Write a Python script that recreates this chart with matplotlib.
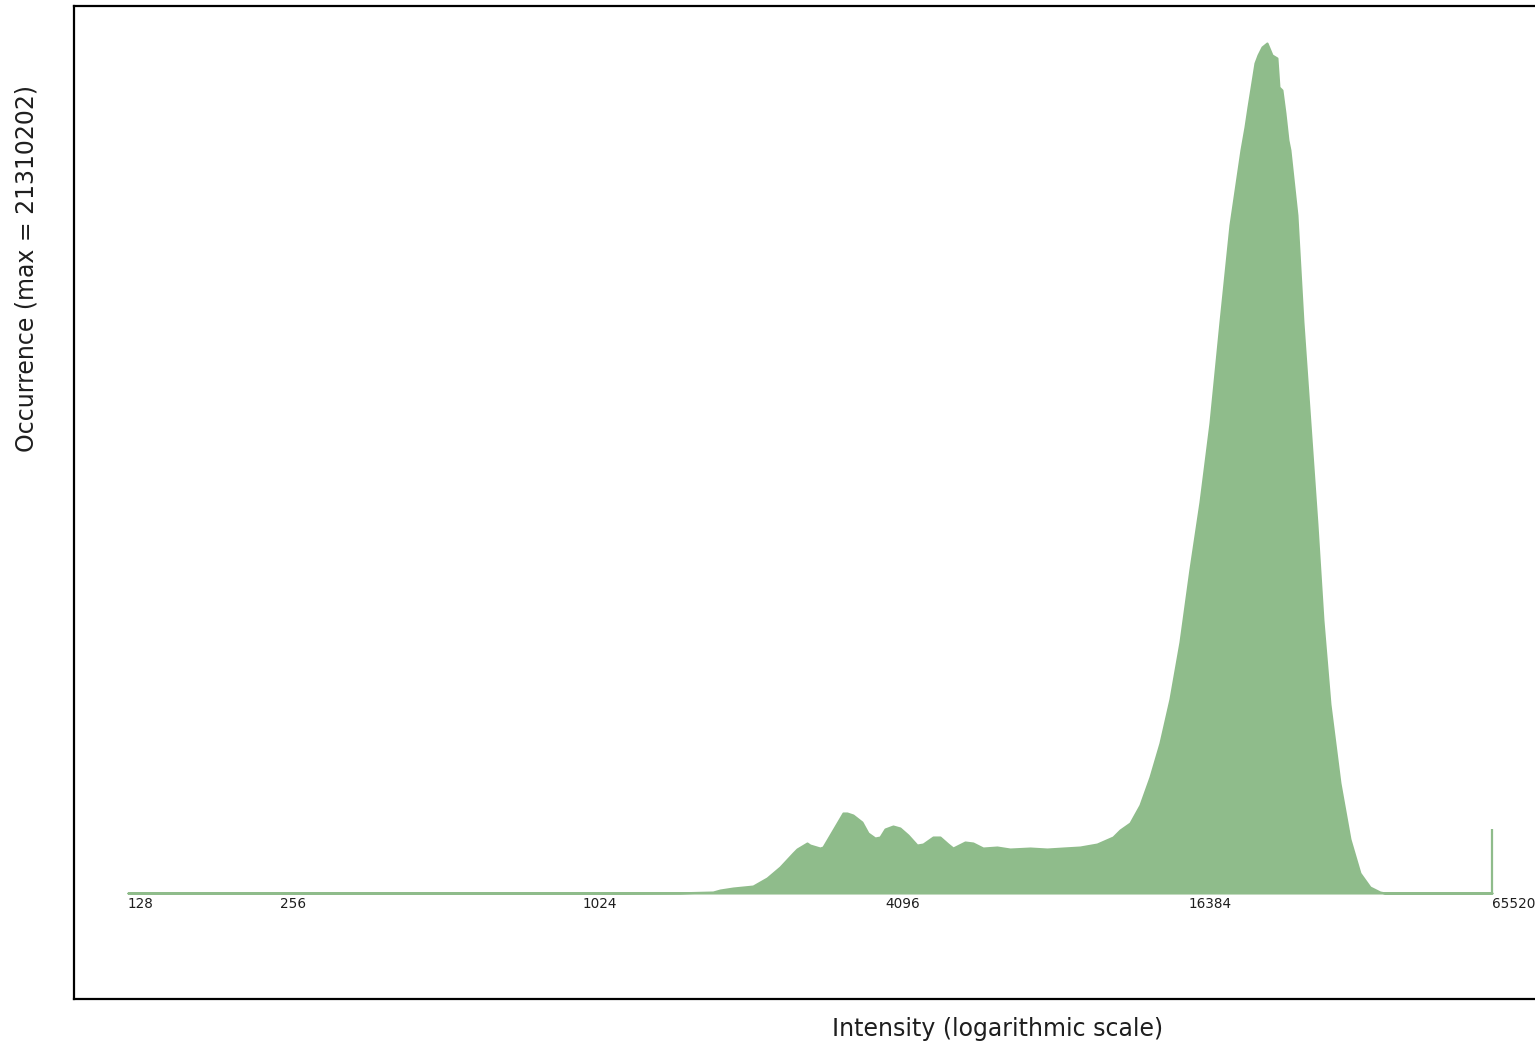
import matplotlib
matplotlib.use("Agg")
import matplotlib.pyplot as plt

# ---- data (intensity bin position, occurrence count) ----
intensity = [128, 1000, 1598, 1858, 1919, 2036, 2231, 2379, 2525, 2680, 2729, 2857,
             2896, 3031, 3073, 3217, 3368, 3430, 3525, 3673, 3776, 3899, 3989, 4081,
             4233, 4371, 4534, 4725, 4856, 5083, 5249, 5445, 5570, 5884, 6103, 6389,
             6812, 7229, 7924, 8561, 9212, 9955, 10761, 11577, 11954, 12513, 13099,
             13712, 14353, 15025, 15729, 16465, 17236, 18042, 18886, 19770,
             20788, 21175, 21467, 21862, 22165, 22472, 22887, 23416, 23958, 24510,
             24735, 25077, 25425, 25775, 26010, 26857, 27604, 28502,
             29429, 30248, 31233, 32698, 34226, 35826, 37508, 39262, 40171, 65520]
counts = [0, 0, 5000, 25000, 75000, 125000, 175000, 376000, 652000, 1003000, 1103000,
          1254000, 1203000, 1128000, 1153000, 1579000, 2006000, 2006000, 1956000,
          1780000, 1504000, 1379000, 1404000, 1605000, 1680000, 1630000, 1454000,
          1203000, 1228000, 1404000, 1404000, 1228000, 1128000, 1279000, 1254000,
          1128000, 1153000, 1103000, 1128000, 1103000, 1128000, 1153000, 1228000,
          1404000, 1579000, 1755000, 2206000, 2908000, 3761000, 4864000,
          6293000, 8123000, 9803000, 11783000, 14316000, 16748000,
          18628000, 19204000, 19706000, 20333000, 20809000, 21010000, 21210000,
          21310202, 21010000, 20934000, 20207000, 20132000, 19555000, 18878000,
          18628000, 16998000, 14316000, 11783000, 9251000, 6844000, 4738000, 2758000,
          1354000, 501000, 150000, 25000, 0, 0]
spike_intensity = 65520
spike_count = 1600000
max_count = 21310202
tick_values = [128, 256, 1024, 4096, 16384, 65520]
tick_labels = ["128", "256", "1024", "4096", "16384", "65520"]

green = "#8fbc8b"
text_color = "#1e1e1e"

W, H = 1535, 1047
fig = plt.figure(figsize=(W / 100, H / 100), dpi=100)
ax = fig.add_axes([74 / W, (H - 999) / H, (W - 74) / W, (999 - 6) / H])

ax.fill_between(intensity, counts, 0, facecolor=green, edgecolor=green, linewidth=1.5)
ax.vlines(spike_intensity, 0, spike_count, color=green, linewidth=1.6)

ax.set_xscale("log", base=2)
ax.set_xlim(100, 79780)
ax.set_ylim(-0.1247 * max_count, 1.0435 * max_count)
ax.set_xticks([])
ax.set_yticks([])
ax.minorticks_off()

for s in ["left", "top", "bottom"]:
    ax.spines[s].set_linewidth(1.6)
    ax.spines[s].set_color("black")
ax.spines["right"].set_visible(False)

for v, lab in zip(tick_values, tick_labels):
    ax.annotate(lab, xy=(v, 0), xytext=(0, -3), textcoords="offset points",
                ha="left", va="top", fontsize=9.8, color=text_color,
                family="DejaVu Sans")

fig.text(998 / W, 1 - 1029 / H, "Intensity (logarithmic scale)", ha="center",
         va="center", fontsize=17, color=text_color, family="DejaVu Sans")
fig.text(27 / W, 1 - 268 / H, "Occurrence (max = %d)" % max_count, ha="center",
         va="center", rotation=90, fontsize=17, color=text_color,
         family="DejaVu Sans")

fig.savefig("out.png", dpi=100)
